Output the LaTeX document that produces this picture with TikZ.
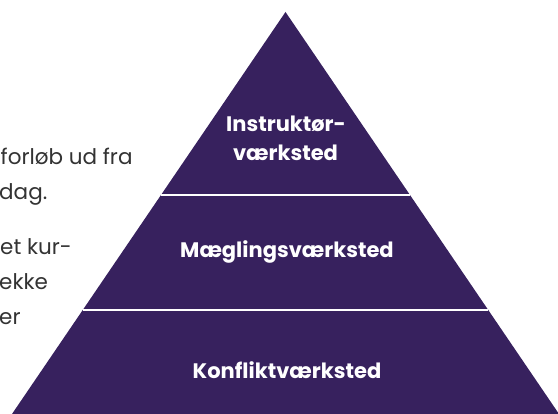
\documentclass[tikz,border=0pt]{standalone}
\usepackage{fontspec}
\setmainfont{Poppins}
\usetikzlibrary{calc}
\definecolor{pyrpurple}{RGB}{55,33,94}
\definecolor{bodygray}{RGB}{51,51,51}

\begin{document}
\begin{tikzpicture}[x=1pt,y=1pt,
    tier label/.style={text=white,font=\fontsize{21}{29}\selectfont\bfseries,align=center,inner sep=0pt},
    side text/.style={text=bodygray,font=\fontsize{21.5}{24}\selectfont,anchor=base west,inner sep=0pt}]
    \useasboundingbox (0,0) rectangle (558,414);
    \clip (0,0) rectangle (558,414);
    % pyramid
    \coordinate (top) at (285.5,402);
    \coordinate (bl) at (12,0);
    \coordinate (br) at (559,0);
    \fill[pyrpurple] (top) -- (br) -- (bl) -- cycle;
    \draw[white,line width=1.6pt] ($(top)!0.4552!(bl)$) -- ($(top)!0.4552!(br)$);
    \draw[white,line width=1.6pt] ($(top)!0.7413!(bl)$) -- ($(top)!0.7413!(br)$);
    % tiers
    \node[tier label,anchor=base] (instr) at (286,282) {Instruktør-};
    \node[tier label,anchor=base] (instr2) at (285.5,253) {værksted};
    \node[tier label,anchor=base] (maegl) at (287,156) {Mæglingsværksted};
    \node[tier label,anchor=base] (konfl) at (287,35) {Konfliktværksted};
    % text on the left
    \node[side text] (t1) at (0.5,249) {forløb ud fra};
    \node[side text] (t2) at (-1,214) {dag.};
    \node[side text] (t3) at (0,159) {et kur-};
    \node[side text] (t4) at (-1,124) {ekke};
    \node[side text] (t5) at (-1,89) {er};
\end{tikzpicture}
\end{document}
